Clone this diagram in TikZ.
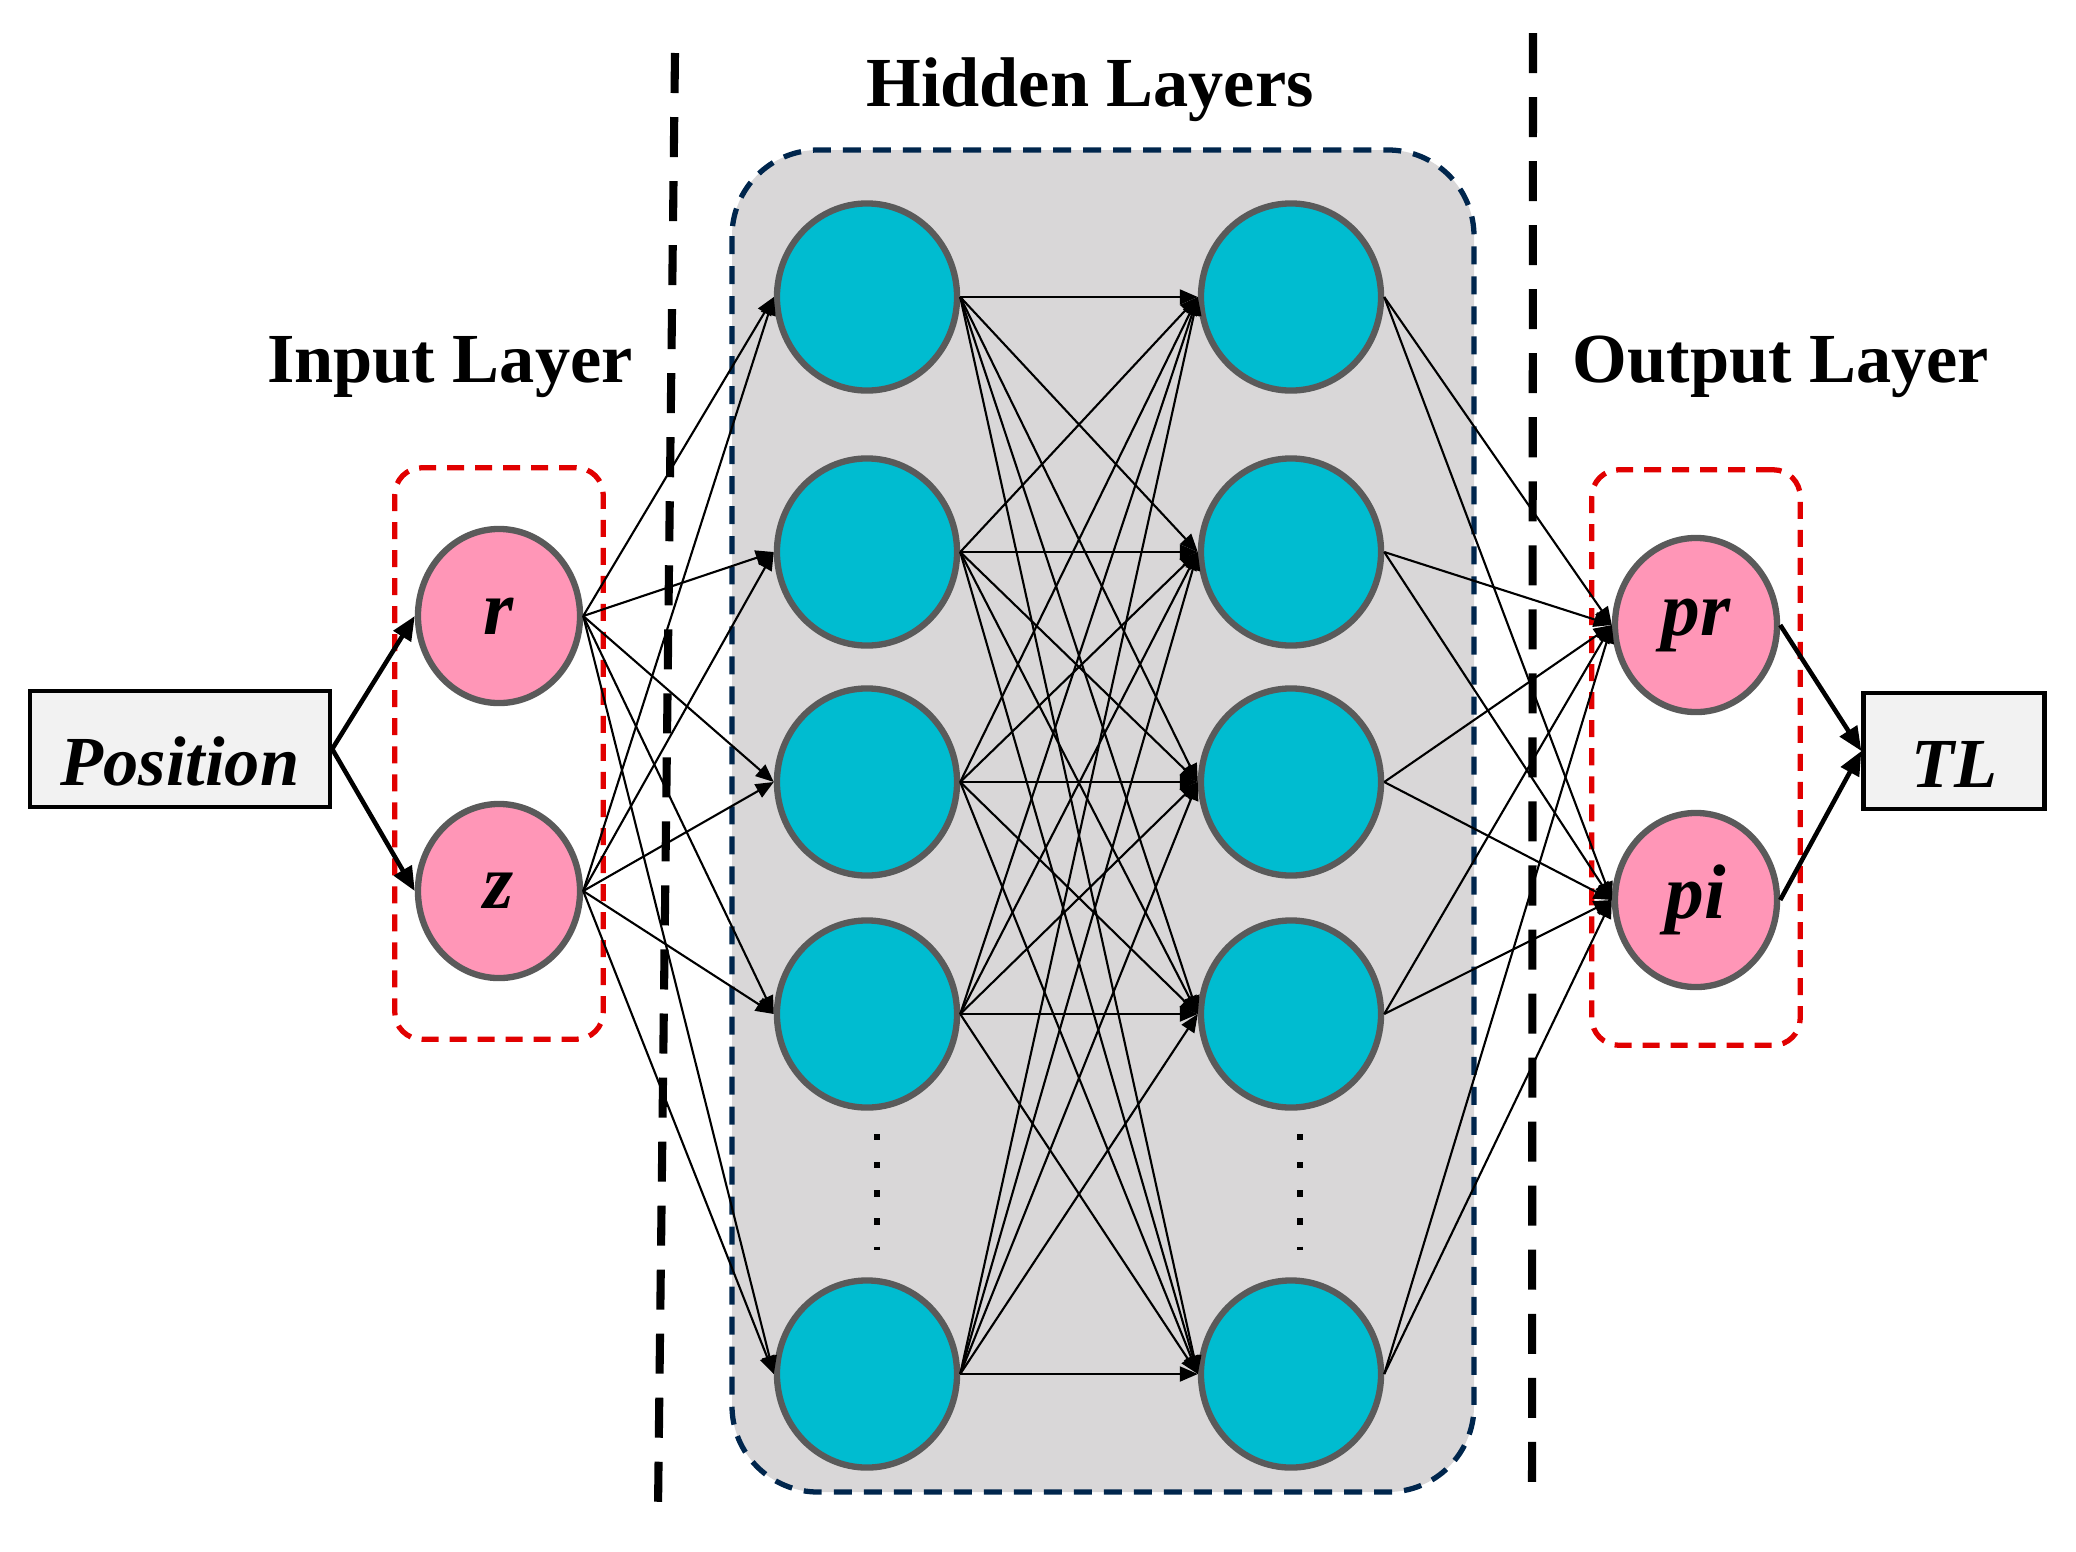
\documentclass[tikz,border=0pt]{standalone}
\usepackage{fontspec}
\setmainfont{Liberation Serif}
\usetikzlibrary{arrows.meta,positioning,calc,shapes.geometric,fit,backgrounds}
\definecolor{nodepink}{RGB}{255,150,183}
\definecolor{nodecyan}{RGB}{0,188,208}
\definecolor{nodeedge}{RGB}{90,90,90}
\definecolor{hidgray}{RGB}{217,215,216}
\definecolor{hidnavy}{RGB}{0,38,77}
\definecolor{grpred}{RGB}{225,0,0}
\definecolor{boxfill}{RGB}{242,242,242}
\tikzset{
  pnode/.style={ellipse, draw=nodeedge, fill=nodepink, line width=1.8pt, inner sep=0pt,
               minimum width=1.62cm, minimum height=1.74cm, font=\fontsize{22}{26}\selectfont\bfseries\itshape},
  hnode/.style={ellipse, draw=nodeedge, fill=nodecyan, line width=1.8pt, inner sep=0pt,
               minimum width=1.8cm, minimum height=1.87cm},
  ebox/.style={rectangle, draw=black, fill=boxfill, line width=1.2pt, inner sep=0pt,
               minimum height=1.16cm, text height=0.73cm, text depth=0pt,
               font=\fontsize{20}{24}\selectfont\bfseries\itshape},
  grp/.style={draw=grpred, line width=1.5pt, dash pattern=on 1.7mm off 1.1mm, rounded corners=2.7mm},
  hgrp/.style={draw=hidnavy, fill=hidgray, line width=1.5pt, dash pattern=on 1.8mm off 1.2mm, rounded corners=8.6mm},
  divider/.style={draw=black, line width=2.3pt, dash pattern=on 4mm off 2.4mm},
  ttl/.style={font=\fontsize{20}{24}\selectfont\bfseries},
  link/.style={-{Triangle[length=1.8mm,width=1.5mm]}, line width=0.6pt},
  flow/.style={-{Triangle[length=2.4mm,width=2mm]}, line width=1.3pt},
}

\begin{document}
\begin{tikzpicture}[x=0.01cm, y=-0.01cm]
  \useasboundingbox (0,0) rectangle (2076,1551);
  % hidden block
  \draw[hgrp] (732,150) rectangle (1474,1492);
  \draw[divider] (675,53) -- (658,1509);
  \draw[divider] (1533,33) -- (1532,1500);

  \node[ttl] (tin) at (450,367) {Input Layer};
  \node[ttl] (thid) at (1090,90) {Hidden Layers};
  \node[ttl] (tout) at (1781,367) {Output Layer};

  \node[ebox, minimum width=3.0cm] (pos) at (180,749) {Position};
  \node[pnode] (r) at (499,616) {r};
  \node[pnode] (z) at (499,891) {z};
  \node[pnode] (pr) at (1696,625) {pr};
  \node[pnode] (pi) at (1696,900) {pi};
  \node[ebox, minimum width=1.81cm] (tl) at (1954,751) {TL};

  \node[grp, fit=(r)(z), inner xsep=0.2cm, inner ysep=0.58cm] (ingrp) {};
  \node[grp, fit=(pr)(pi), inner xsep=0.2cm, inner ysep=0.6cm, yshift=0.05cm] (outgrp) {};

  \foreach \i/\y in {1/297,2/552,3/782,4/1014,5/1374} {
    \node[hnode] (a\i) at (867,\y) {};
    \node[hnode] (b\i) at (1291,\y) {};
  }
  \draw[line width=1.8pt, dash pattern=on 1.8pt off 6.2pt] (877,1134) -- (877,1250);
  \draw[line width=1.8pt, dash pattern=on 1.8pt off 6.2pt] (1300,1134) -- (1300,1250);

  \draw[flow] (pos.east) -- (r.west);
  \draw[flow] (pos.east) -- (z.west);
  \foreach \i in {1,...,5} {
    \draw[link] (r.east) -- (a\i.west);
    \draw[link] (z.east) -- (a\i.west);
    \foreach \j in {1,...,5}
      \draw[link] (a\i.east) -- (b\j.west);
    \draw[link] (b\i.east) -- (pr.west);
    \draw[link] (b\i.east) -- (pi.west);
  }
  \draw[flow] (pr.east) -- (tl.west);
  \draw[flow] (pi.east) -- (tl.west);
\end{tikzpicture}
\end{document}
